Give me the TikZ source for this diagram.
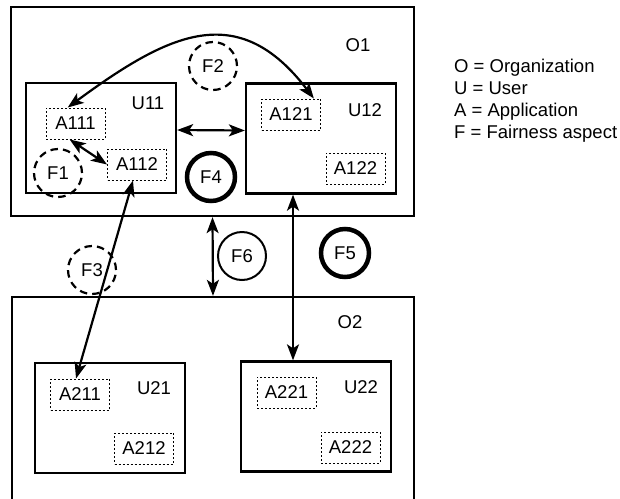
\documentclass[tikz,border=0pt]{standalone}
\usepackage{fontspec}
\setmainfont{Liberation Sans}
\usetikzlibrary{arrows.meta}

\begin{document}
\begin{tikzpicture}[
    x=1pt, y=-1pt,
    org/.style={draw, line width=2.3pt, inner sep=0pt},
    user/.style={draw, line width=2.3pt, minimum width=150pt, minimum height=110pt, inner sep=0pt},
    app/.style={draw, line width=1pt, dash pattern=on 2pt off 2pt, minimum width=59pt, minimum height=31pt, inner sep=0pt, font=\fontsize{18.5}{22}\selectfont},
    fair/.style={draw, circle, line width=2pt, minimum size=48pt, inner sep=0pt, font=\fontsize{18.5}{22}\selectfont},
    soft/.style={fair, line width=2.2pt, dash pattern=on 7.5pt off 5.07pt},
    hard/.style={fair, line width=4.5pt},
    lbl/.style={inner sep=0pt, font=\fontsize{18.5}{22}\selectfont},
    arr/.style={{Stealth[length=16pt,width=12pt,inset=4pt]}-{Stealth[length=16pt,width=12pt,inset=4pt]}, line width=2.2pt}
]
\useasboundingbox (0,0) rectangle (620,498);
\clip (0,0) rectangle (620,498);

% Organizations
\node[org, minimum width=403pt, minimum height=209pt] (O1) at (212.5,111.5) {};
\node[org, minimum width=402pt, minimum height=260pt] (O2) at (213,427) {};
\node[lbl] at (358,45) {O1};
\node[lbl] at (350,322) {O2};

% Users
\node[user] (U11) at (101,138) {};
\node[user] (U12) at (321,138.5) {};
\node[user] (U21) at (110,418) {};
\node[user] (U22) at (316,416.5) {};
\node[lbl] at (148,103) {U11};
\node[lbl] at (365,110) {U12};
\node[lbl] at (154,388) {U21};
\node[lbl] at (361,387) {U22};

% Applications
\node[app] (A111) at (75.5,123.5) {A111};
\node[app] (A112) at (137,164.5) {A112};
\node[app] (A121) at (291,114.5) {A121};
\node[app] (A122) at (355.5,168.5) {A122};
\node[app] (A211) at (80,394.5) {A211};
\node[app] (A212) at (144,448.5) {A212};
\node[app] (A221) at (286.5,392.5) {A221};
\node[app] (A222) at (350.5,447.5) {A222};

% Fairness aspects
\node[soft] (F1) at (58,173) {F1};
\node[soft] (F2) at (213,66) {F2};
\node[soft] (F3) at (92,270) {F3};
\node[hard] (F4) at (211,177) {F4};
\node[hard] (F5) at (345,253) {F5};
\node[fair] (F6) at (242,256) {F6};

% Interactions
\draw[arr] (A111.-110) -- (A112.west);
\draw[arr] (A111.116) .. controls (169,33) and (238,-1) .. (A121.35);
\draw[arr] ([yshift=8pt]U11.east) -- ([yshift=8pt]U12.west);
\draw[arr] (A112.-104) -- (A211.104);
\draw[arr] (O1.south) -- (O2.north);
\draw[arr] ([xshift=-28pt]U12.south) -- ([xshift=-28pt]U12.south |- U22.north);

% Legend
\node[lbl, anchor=base west] at (454,72.5) {O = Organization};
\node[lbl, anchor=base west] at (454,94.5) {U = User};
\node[lbl, anchor=base west] at (454,116.5) {A = Application};
\node[lbl, anchor=base west] at (454,138.5) {F = Fairness aspect};

\end{tikzpicture}
\end{document}
